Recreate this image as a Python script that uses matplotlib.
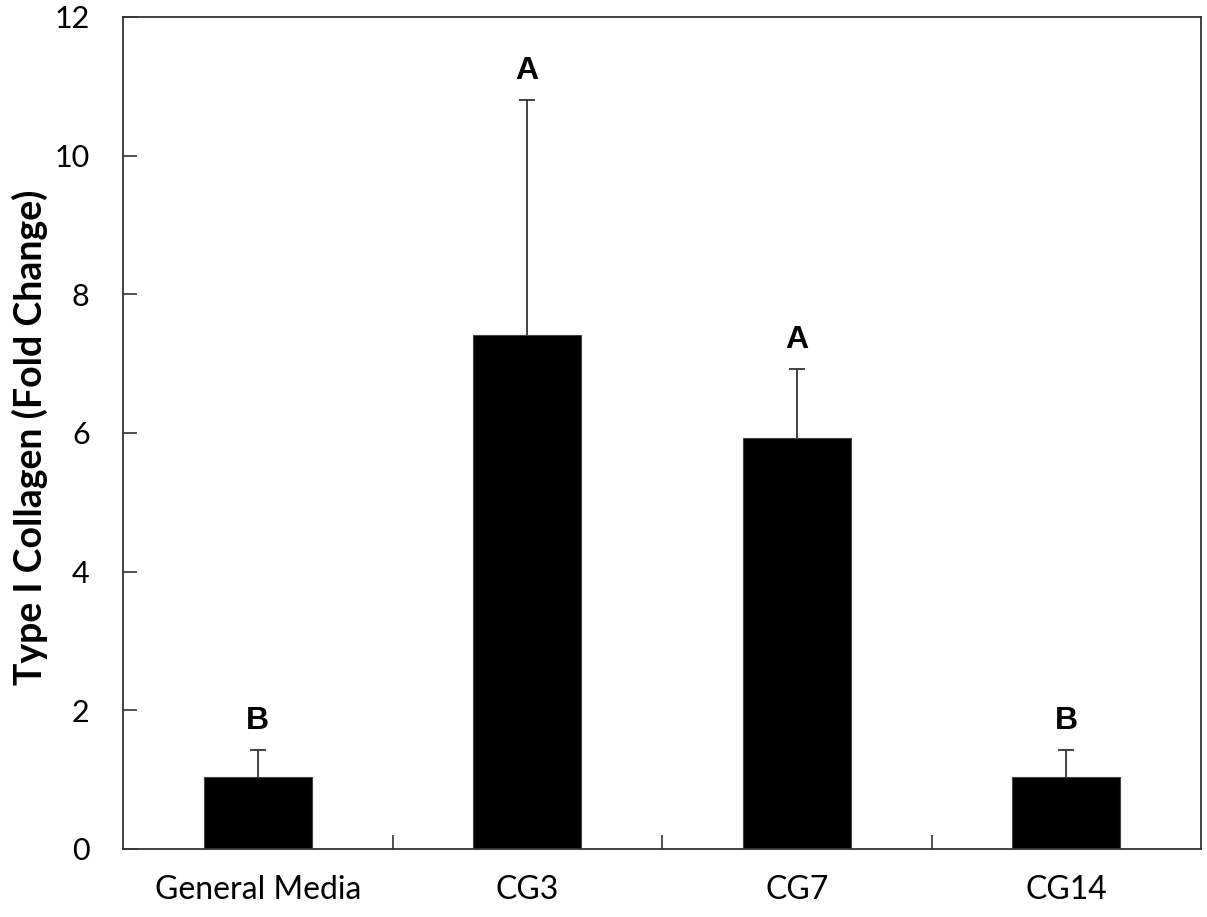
import numpy as np
import matplotlib.pyplot as plt

# fold change values and upper error (SD) per medium
groups = ['General Media', 'CG3', 'CG7', 'CG14']
fold_change = [1.04, 7.41, 5.93, 1.04]
err_upper = [0.39, 3.40, 0.99, 0.39]
letters = ['B', 'A', 'A', 'B']

fig = plt.figure(figsize=(12.07, 9.17), dpi=100)
ax = fig.add_axes([123 / 1207, 1 - 849 / 917, 1078 / 1207, 832 / 917])

x = np.arange(len(groups))
ax.bar(x, fold_change, width=0.40, color='black', edgecolor='#444444', linewidth=0.8, zorder=2)

# only the upper half of the error bar is shown: stem plus a cap marker on top
tops = np.array(fold_change) + np.array(err_upper)
ax.vlines(x, fold_change, tops, color='#333333', linewidth=1.3, zorder=1)
ax.plot(x, tops, ls='none', marker='_', ms=11, mew=1.3, color='#333333', zorder=1)

# significance letters above each bar
for xi, top, lab in zip(x, tops, letters):
    ax.text(xi, top + 0.2, lab, ha='center', va='bottom', fontsize=23,
            fontweight='bold', family='Liberation Sans')

ax.set_xlim(-0.5, len(groups) - 0.5)
ax.set_ylim(0, 12)
ax.set_yticks(range(0, 13, 2))
ax.set_xticks(x)
ax.set_xticklabels(groups, family='Lato', fontsize=23)
ax.set_xticks(np.arange(0.5, len(groups) - 0.5, 1), minor=True)
for lbl in ax.get_yticklabels():
    lbl.set_family('Lato')
    lbl.set_fontsize(22)

ax.tick_params(axis='x', which='major', length=0, pad=19)
ax.tick_params(axis='x', which='minor', direction='in', length=10, width=1.2, color='#333333')
ax.tick_params(axis='y', direction='in', length=10, width=1.2, color='#333333', pad=24)

for sp in ax.spines.values():
    sp.set_linewidth(1.3)
    sp.set_color('#333333')

ax.set_ylabel('Type I Collagen (Fold Change)', family='Lato', fontweight='bold', fontsize=27)
ax.yaxis.set_label_coords(-0.070, 0.495)

fig.savefig('out.png', dpi=100)
